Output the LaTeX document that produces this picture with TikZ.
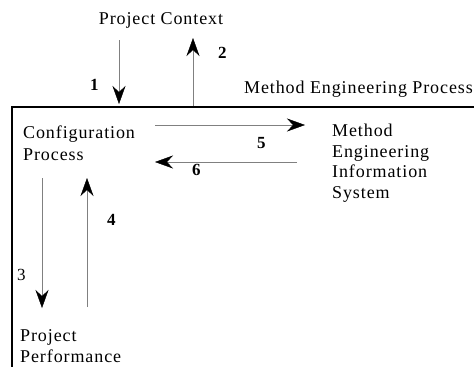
\documentclass[tikz,border=0pt]{standalone}
\usepackage{fontspec}
\setmainfont{Liberation Serif}[LetterSpace=5]
\usetikzlibrary{arrows.meta}

\begin{document}
\begin{tikzpicture}[
            x = 1pt, y = -1pt, % pixel-like grid, y downwards
            > = {Stealth[length=18pt,width=13pt,inset=6pt,color=black]},
            every node/.style = {inner sep=0pt, font=\fontsize{18}{20.5}\selectfont},
            flow/.style = {->, draw=black!50, thin}, % grey shaft, black head
            num/.style = {anchor=base west, font=\fontsize{17}{20}\selectfont\bfseries},
            lbl/.style = {anchor=base west, align=left} % placed at last baseline
        ]
	\useasboundingbox (0,0) rectangle (474,367);

	% texts
	\node[anchor=base] (ctx) at (161,24) {Project Context};
	\node[anchor=base east] (mep) at (473,93) {Method Engineering Process};
	\node[lbl] (cfg) at (23,160) {Configuration\\[1.5pt]Process};
	\node[lbl] (meis) at (332,198) {Method\\Engineering\\Information\\System};
	\node[lbl] (perf) at (20,362) {Project\\Performance};

	% frame of the method engineering process
	\coordinate (tr) at (474,107);
	\coordinate (tl) at (12,107);
	\coordinate (bl) at (12,367);
	\draw[line width=2.8pt] (tr) -- (tl) -- (bl);

	% flows
	\coordinate (a1s) at (119,40);  \coordinate (a1e) at (119,104);
	\coordinate (a2s) at (193,106); \coordinate (a2e) at (193,38);
	\coordinate (a5s) at (155,125); \coordinate (a5e) at (305,125);
	\coordinate (a6s) at (297,162); \coordinate (a6e) at (155,162);
	\coordinate (a3s) at (42,178);  \coordinate (a3e) at (42,308);
	\coordinate (a4s) at (87,307);  \coordinate (a4e) at (87,178);

	\draw[flow] (a1s) -- (a1e);
	\draw[flow] (a2s) -- (a2e);
	\draw[flow] (a5s) -- (a5e);
	\draw[flow] (a6s) -- (a6e);
	\draw[flow] (a3s) -- (a3e);
	\draw[flow] (a4s) -- (a4e);

	% flow numbers
	\node[num] (n1) at (90,90) {1};
	\node[num] (n2) at (218,58) {2};
	\node[num] (n5) at (257,148) {5};
	\node[num] (n6) at (192,175) {6};
	\node[num, font=\fontsize{17}{20}\selectfont] (n3) at (17,280) {3};
	\node[num] (n4) at (107,225) {4};

\end{tikzpicture}
\end{document}
